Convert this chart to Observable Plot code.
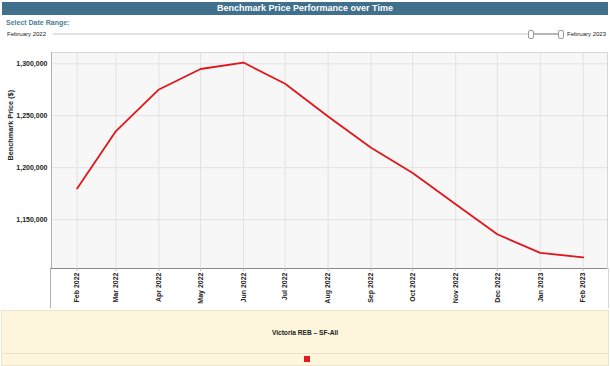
<!DOCTYPE html>
<html><head><meta charset="utf-8">
<script src="https://cdn.jsdelivr.net/npm/d3@7"></script>
<script src="https://cdn.jsdelivr.net/npm/@observablehq/plot@0.6"></script>
<style>
body{margin:0;width:610px;height:366px;position:relative;background:#fff;font-family:"Liberation Sans",Arial,sans-serif;overflow:hidden}
#title{position:absolute;left:2px;top:2px;width:606px;height:13px;background:#41708d;color:#fff;font-weight:bold;font-size:9px;line-height:13px;text-align:center}
#sel{position:absolute;left:6px;top:19px;font-size:7px;font-weight:bold;color:#4d7d99}
.lab{position:absolute;top:30px;font-size:6px;color:#222;line-height:8px}
#track{position:absolute;left:53px;top:33px;width:477px;height:2px;background:#e2e2e2}
#range{position:absolute;left:531px;top:33px;width:29px;height:2px;background:#b5b5b5}
.thumb{position:absolute;top:30px;width:4px;height:7px;border:1px solid #9a9a9a;border-radius:2px;background:#fff}
#chart{position:absolute;left:0;top:44px}
#xbox{position:absolute;left:50px;top:268px;width:557px;height:40px;border-left:1px solid #b0b0b0;border-right:1px solid #d8d8d8}
#legend{position:absolute;left:1px;top:310px;width:606px;height:54px;background:#fdf6dc;border:1px solid #eee6cc}
#legtxt{position:absolute;left:0;width:100%;top:18px;text-align:center;font-size:6.6px;font-weight:bold;color:#222}
#legline{position:absolute;left:0;width:100%;top:42px;height:1px;background:#ece3c5}
#sw{position:absolute;left:302px;top:45px;width:6px;height:6px;background:#e3191f}
</style></head>
<body>
<div id="title">Benchmark Price Performance over Time</div>
<div id="sel">Select Date Range:</div>
<div class="lab" style="left:7px">February 2022</div>
<div id="track"></div><div id="range"></div>
<div class="thumb" style="left:528px"></div>
<div class="thumb" style="left:558px"></div>
<div class="lab" style="left:567px">February 2023</div>
<div id="xbox"></div>
<div id="chart"></div>
<div id="legend"><div id="legtxt">Victoria REB – SF-All</div><div id="legline"></div><div id="sw"></div></div>
<script>
const months = ["2022-02-01","2022-03-01","2022-04-01","2022-05-01","2022-06-01","2022-07-01","2022-08-01","2022-09-01","2022-10-01","2022-11-01","2022-12-01","2023-01-01","2023-02-01"];
const prices = [1180000,1235200,1275300,1295000,1301200,1280800,1249300,1219200,1194800,1164700,1135900,1117900,1113700];
const yTicks = [1150000,1200000,1250000,1300000];
const xDomain = ["2022-01-13T12:00Z","2023-02-18T12:00Z"].map(d => new Date(d));
const yDomain = [1102900,1310900];
const seriesName = "Victoria REB – SF-All";
const yLabel = "Benchmark Price ($)";

const dates = months.map(m => new Date(m + "T00:00Z"));
const data = dates.map((d,i) => ({date:d, price:prices[i]}));

const chart = Plot.plot({
  width:610, height:266,
  marginTop:8, marginBottom:42, marginLeft:51, marginRight:3,
  style:{fontFamily:"'Liberation Sans', Arial, sans-serif", fontSize:"7px", fontWeight:"bold", color:"#222", background:"transparent", overflow:"visible"},
  x:{type:"utc", domain:xDomain},
  y:{domain:yDomain},
  marks:[
    Plot.frame({fill:"#f7f7f7", stroke:"none"}),
    Plot.gridX(dates, {stroke:"#e2e2e2", strokeOpacity:1}),
    Plot.gridY(yTicks, {stroke:"#e2e2e2", strokeOpacity:1}),
    Plot.frame({stroke:"#d6d6d6"}),
    Plot.ruleX([xDomain[0]], {stroke:"#b0b0b0"}),
    Plot.ruleY([yDomain[0]], {stroke:"#8a8a8a"}),
    Plot.axisY(yTicks, {tickFormat:d3.format(","), tickSize:0, tickPadding:4, label:null}),
    Plot.axisX(dates, {tickFormat:d3.utcFormat("%b %Y"), tickRotate:-90, tickSize:3, tickPadding:1, label:null, stroke:"#bbb"}),
    Plot.line(data, {x:"date", y:"price", stroke:"#e0161b", strokeWidth:1.8}),
    Plot.text([yLabel], {frameAnchor:"left", dx:-41, rotate:-90, fontSize:7.3, fontWeight:"bold", fill:"#222"})
  ]
});
document.getElementById("chart").appendChild(chart);
</script>
</body></html>
